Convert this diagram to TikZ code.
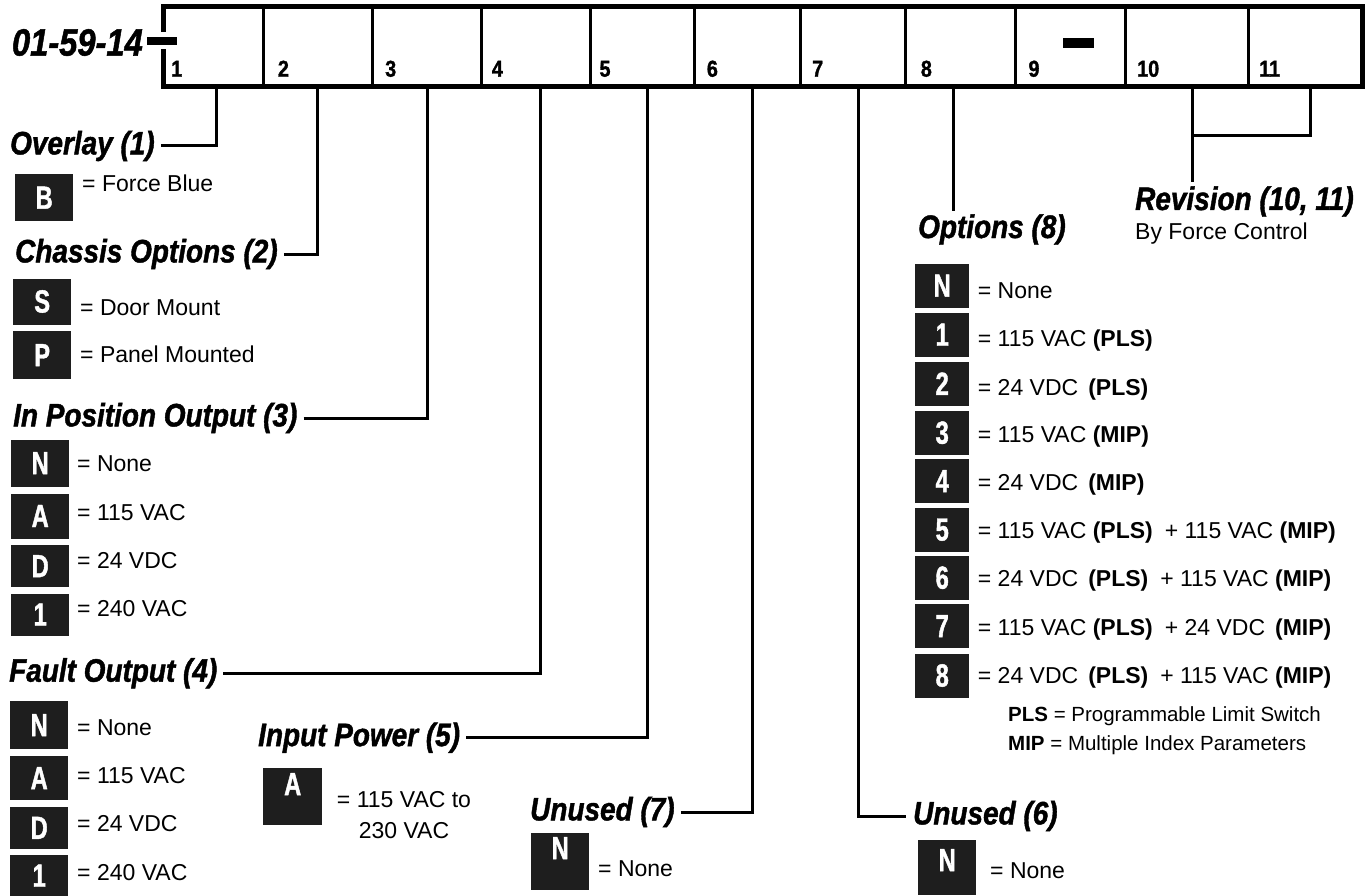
\documentclass[tikz,border=0pt]{standalone}
\usepackage{fontspec}
\setmainfont{Liberation Sans}
\newfontfamily\cf{Liberation Sans}[FakeStretch=0.86, FakeBold=1.3]
\newfontfamily\bxf{Liberation Sans}[FakeStretch=0.74, FakeBold=1.3]
\definecolor{boxc}{RGB}{30,30,30}
\tikzset{
  lead/.style={line width=3pt, line join=miter},
  head/.style={inner sep=0pt, anchor=west, font=\cf\bfseries\itshape\fontsize{32.5}{36}\selectfont},
  desc/.style={inner sep=0pt, anchor=base west, font=\fontsize{23}{27}\selectfont},
  legend/.style={inner sep=0pt, anchor=base west, font=\fontsize{20.5}{24}\selectfont},
  celllbl/.style={inner sep=0pt, anchor=base west, font=\cf\bfseries\fontsize{23}{26}\selectfont},
  kbox/.style={fill=boxc, text=white, inner sep=0pt, anchor=north west, minimum width=58pt, minimum height=45pt, font=\bxf\bfseries\fontsize{32}{32}\selectfont},
  tbox/.style={fill=boxc, inner sep=0pt, anchor=north west, minimum width=58pt, minimum height=57pt},
  tlet/.style={text=white, inner sep=0pt, anchor=north, font=\bxf\bfseries\fontsize{32}{32}\selectfont},
}
\begin{document}
\begin{tikzpicture}[x=1pt,y=-1pt]
\useasboundingbox (0,0) rectangle (1368,896);

% ---- part number bar ----
\draw[line width=4.5pt] (163.7,6.3) rectangle (1362.3,86.5);
\foreach \x in {263.3,372,481.7,590.7,694.3,800,905.7,1015.3,1125.7,1248.3}
  \draw[line width=3pt] (\x,6.3) -- (\x,86.5);
\fill[white] (159,32.5) rectangle (168.5,49.5);
\fill (147,37) rectangle (176.7,45.3);
\fill (1063,38.3) rectangle (1094,48.3);
\node[inner sep=0pt, anchor=east, font=\cf\bfseries\itshape\fontsize{38}{40}\selectfont] (pn) at (143,42.5) {01-59-14};

\node[celllbl] (n1) at (171,76.7) {1};
\node[celllbl] (n2) at (277.7,76.7) {2};
\node[celllbl] (n3) at (385,76.7) {3};
\node[celllbl] (n4) at (491.7,76.7) {4};
\node[celllbl] (n5) at (599.3,76.7) {5};
\node[celllbl] (n6) at (706.7,76.7) {6};
\node[celllbl] (n7) at (812,76.7) {7};
\node[celllbl] (n8) at (920.7,76.7) {8};
\node[celllbl] (n9) at (1028.3,76.7) {9};
\node[celllbl] (n10) at (1137,76.7) {10};
\node[celllbl] (n11) at (1259,76.7) {11};

\coordinate (t1) at (216.7,86.5);
\coordinate (t2) at (317,86.5);
\coordinate (t3) at (427.7,86.5);
\coordinate (t4) at (540,84);
\coordinate (t5) at (647.7,86.5);
\coordinate (t6) at (752.7,84);
\coordinate (t7) at (858.3,86.5);
\coordinate (t8) at (953.3,86.5);
\coordinate (t10) at (1192.3,86.5);
\coordinate (t11) at (1310,86.5);
\coordinate (jn) at (1192.3,135.7);

% ---- Overlay (1) ----
\node[head] (ovl) at (10,146) {Overlay (1)};
\node[kbox, minimum height=47pt] (ob) at (15,174) {B};
\node[desc] (obt) at (82,192) {= Force Blue};

% ---- Chassis Options (2) ----
\node[head] (chs) at (15,254) {Chassis Options (2)};
\node[kbox, minimum height=46pt] (cs) at (13,278.3) {S};
\node[desc] (cst) at (80,315) {= Door Mount};
\node[kbox, minimum height=48pt] (cp) at (13,331) {P};
\node[desc] (cpt) at (80,362.7) {= Panel Mounted};

% ---- In Position Output (3) ----
\node[head] (inp) at (13,418) {In Position Output (3)};
\node[kbox, minimum height=47pt] (ib1) at (11,439.5) {N};
\node[desc] (it1) at (77,471.7) {= None};
\node[kbox, minimum height=45pt] (ib2) at (11,493.3) {A};
\node[desc] (it2) at (77,520) {= 115 VAC};
\node[kbox, minimum height=42pt] (ib3) at (11,545) {D};
\node[desc] (it3) at (77,568) {= 24 VDC};
\node[kbox, minimum height=42pt] (ib4) at (11,593.3) {1};
\node[desc] (it4) at (77,616) {= 240 VAC};

% ---- Fault Output (4) ----
\node[head] (flt) at (9,673.3) {Fault Output (4)};
\node[kbox, minimum height=48pt] (fb1) at (10,701) {N};
\node[desc] (ft1) at (77,735) {= None};
\node[kbox, minimum height=44pt] (fb2) at (10,756) {A};
\node[desc] (ft2) at (77,783) {= 115 VAC};
\node[kbox, minimum height=42pt] (fb3) at (10,806.7) {D};
\node[desc] (ft3) at (77,831.7) {= 24 VDC};
\node[kbox, minimum height=41pt] (fb4) at (10,855) {1};
\node[desc] (ft4) at (77,880) {= 240 VAC};

% ---- Input Power (5) ----
\node[head] (pwr) at (258,737.7) {Input Power (5)};
\node[tbox, minimum width=59pt] (pa) at (263,768) {};
\node[tlet] (pal) at ([yshift=-5pt]pa.north) {A};
\node[desc, anchor=north, align=center, font=\fontsize{23}{31}\selectfont] (pat) at (404,791) {= 115 VAC to\\230 VAC};

% ---- Unused (7) ----
\node[head] (u7) at (530,812) {Unused (7)};
\node[tbox] (u7b) at (531,833) {};
\node[tlet] (u7l) at ([yshift=-4pt]u7b.north) {N};
\node[desc] (u7t) at (598,876) {= None};

% ---- Unused (6) ----
\node[head] (u6) at (913,816) {Unused (6)};
\node[tbox, minimum height=55pt] (u6b) at (918,840) {};
\node[tlet] (u6l) at ([yshift=-9pt]u6b.north) {N};
\node[desc] (u6t) at (990,878) {= None};

% ---- Options (8) ----
\node[head, anchor=base west] (opt) at (918,238) {Options (8)};
\node[kbox, minimum width=54pt, minimum height=44pt] (ob0) at (915,263.5) {N};
\node[desc] (ot0) at (977.7,298.3) {= None};
\node[kbox, minimum width=54pt, minimum height=44pt] (ob1) at (915,312.5) {1};
\node[desc] (ot1) at (977.7,346.7) {= 115 VAC \textbf{(PLS)}};
\node[kbox, minimum width=54pt, minimum height=44pt] (ob2) at (915,361.5) {2};
\node[desc] (ot2) at (977.7,395) {= 24 VDC\hspace{10pt}\textbf{(PLS)}};
\node[kbox, minimum width=54pt, minimum height=44pt] (ob3) at (915,410.5) {3};
\node[desc] (ot3) at (977.7,442.7) {= 115 VAC \textbf{(MIP)}};
\node[kbox, minimum width=54pt, minimum height=44pt] (ob4) at (915,459) {4};
\node[desc] (ot4) at (977.7,490.7) {= 24 VDC\hspace{10pt}\textbf{(MIP)}};
\node[kbox, minimum width=54pt, minimum height=44pt] (ob5) at (915,507.5) {5};
\node[desc] (ot5) at (977.7,538.3) {= 115 VAC \textbf{(PLS)}\hspace{12pt}+ 115 VAC \textbf{(MIP)}};
\node[kbox, minimum width=54pt, minimum height=44pt] (ob6) at (915,555.5) {6};
\node[desc] (ot6) at (977.7,586) {= 24 VDC\hspace{10pt}\textbf{(PLS)}\hspace{12pt}+ 115 VAC \textbf{(MIP)}};
\node[kbox, minimum width=54pt, minimum height=44pt] (ob7) at (915,604) {7};
\node[desc] (ot7) at (977.7,635) {= 115 VAC \textbf{(PLS)}\hspace{12pt}+ 24 VDC\hspace{10pt}\textbf{(MIP)}};
\node[kbox, minimum width=54pt, minimum height=44pt] (ob8) at (915,653.3) {8};
\node[desc] (ot8) at (977.7,683.3) {= 24 VDC\hspace{10pt}\textbf{(PLS)}\hspace{12pt}+ 115 VAC \textbf{(MIP)}};
\node[legend] (lg1) at (1008,721.7) {\textbf{PLS} = Programmable Limit Switch};
\node[legend] (lg2) at (1008,750) {\textbf{MIP} = Multiple Index Parameters};

% ---- Revision (10, 11) ----
\node[head, anchor=base west] (rev) at (1135,210) {Revision (10, 11)};
\node[desc] (bfc) at (1135,240) {By Force Control};

% ---- connectors ----
\draw[lead, shorten <=6pt] (ovl.east) -| (t1);
\draw[lead, shorten <=6pt] (chs.east) -| (t2);
\draw[lead, shorten <=6pt] (inp.east) -| (t3);
\draw[lead, shorten <=6pt] (flt.east) -| (t4);
\draw[lead, shorten <=6pt] (pwr.east) -| (t5);
\draw[lead, shorten <=6pt] (u7.east) -| (t6);
\draw[lead, shorten >=7pt] (t7) |- (u6.west);
\draw[lead, shorten >=3pt] (t8) -- (t8 |- opt.north);
\draw[lead] (t11) |- (jn);
\draw[lead, shorten >=4pt] (t10) -- (t10 |- rev.north);
\end{tikzpicture}
\end{document}
